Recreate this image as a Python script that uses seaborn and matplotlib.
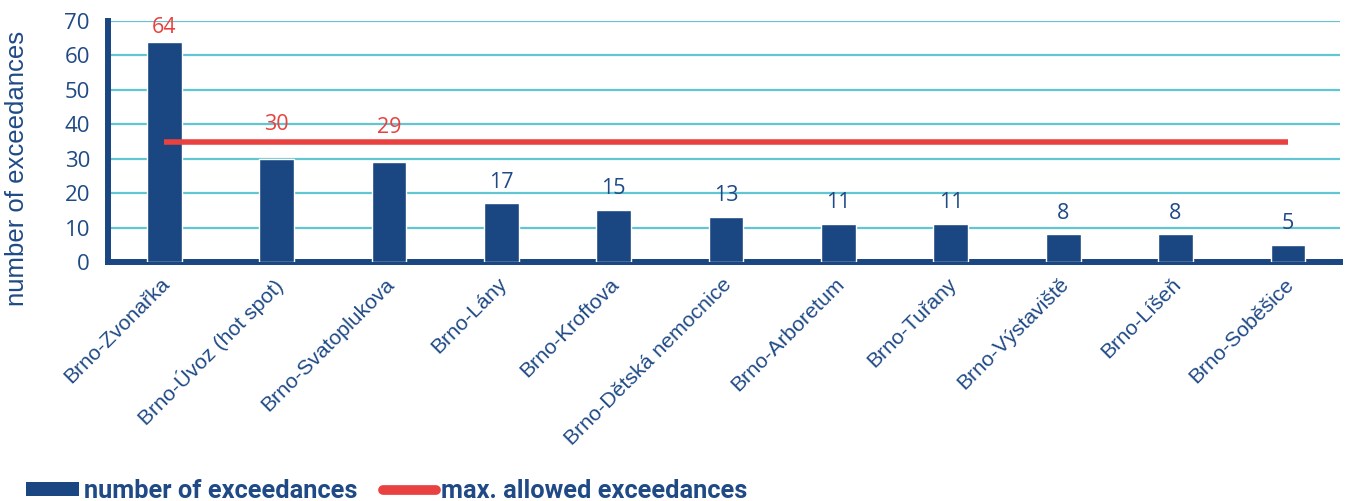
import matplotlib
matplotlib.use("Agg")
import matplotlib.pyplot as plt
import seaborn as sns
import pandas as pd
from matplotlib.patches import Patch
from matplotlib.lines import Line2D
from matplotlib.transforms import ScaledTranslation

stations = ["Brno-Zvonařka", "Brno-Úvoz (hot spot)", "Brno-Svatoplukova", "Brno-Lány",
            "Brno-Kroftova", "Brno-Dětská nemocnice", "Brno-Arboretum", "Brno-Tuřany",
            "Brno-Výstaviště", "Brno-Líšeň", "Brno-Soběšice"]
exceedances = [64, 30, 29, 17, 15, 13, 11, 11, 8, 8, 5]
max_allowed = 35
y_ticks = [0, 10, 20, 30, 40, 50, 60, 70]

NAVY = "#1a4682"
RED = "#e8413f"
GRID = "#62c6d2"
TEXT = "#1f4a86"

sns.set_theme(style="white")
plt.rcParams["font.family"] = ["Liberation Sans", "DejaVu Sans"]
NUM_FONT = ["Open Sans", "DejaVu Sans"]
LEG_FONT = ["Liberation Sans Narrow", "Roboto", "DejaVu Sans"]

df = pd.DataFrame({"station": stations, "count": exceedances})

fig = plt.figure(figsize=(13.45, 5.01), dpi=100)
ax = fig.add_axes([0.0803, 0.477, 0.9157, 0.481])

sns.barplot(data=df, x="station", y="count", color=NAVY, width=0.31,
            saturation=1, ax=ax, zorder=3)

ax.plot([0, len(stations) - 1], [max_allowed, max_allowed], color=RED,
        lw=4, solid_capstyle="butt", zorder=4)

ax.set_ylim(0, 70)
ax.set_xlim(-0.5, len(stations) - 0.54)
ax.set_yticks(y_ticks)
ax.yaxis.grid(True, color=GRID, lw=1.6, zorder=0)
ax.set_axisbelow(True)

# value labels: red for the three busiest stations
for i, v in enumerate(exceedances):
    if v >= max_allowed:
        col, off = RED, 6
    elif v > 25:
        col, off = RED, 21
    else:
        col, off = TEXT, 11.5
    ax.annotate(str(v), (i, v), xytext=(0, off), textcoords="offset points",
                ha="center", va="baseline", color=col, fontsize=15.5,
                family=NUM_FONT, clip_on=False)

for side in ["top", "right"]:
    ax.spines[side].set_visible(False)
for side in ["left", "bottom"]:
    ax.spines[side].set_color(NAVY)
    ax.spines[side].set_linewidth(4.3)

ax.tick_params(axis="y", length=0, labelsize=16, labelcolor=TEXT, pad=13)
for lab in ax.get_yticklabels():
    lab.set_family(NUM_FONT)
ax.tick_params(axis="x", length=0, labelsize=15.3, labelcolor=TEXT, pad=9)
ax.set_xticks(range(len(stations)))
ax.set_xticklabels(stations, rotation=45, ha="right", rotation_mode="anchor")
shift = ScaledTranslation(-4 / 100, 0, fig.dpi_scale_trans)
for lab in ax.get_xticklabels():
    lab.set_transform(lab.get_transform() + shift)
ax.set_xlabel("")
ax.set_ylabel("number of exceedances", fontsize=18.5, color=TEXT)
ax.yaxis.set_label_coords(-0.064, 0.39)

handles = [Patch(facecolor=NAVY, edgecolor="none"),
           Line2D([0], [0], color=RED, lw=7, solid_capstyle="round")]
leg = fig.legend(handles, ["number of exceedances", "max. allowed exceedances"],
                 loc="lower left", bbox_to_anchor=(0.002, -0.05), ncol=2,
                 frameon=False, handlelength=2.1, handleheight=0.5,
                 handletextpad=0.2, columnspacing=1.0,
                 prop={"weight": "bold", "size": 18.3, "family": LEG_FONT})
for t in leg.get_texts():
    t.set_color(TEXT)

fig.savefig("out.png", dpi=100)
